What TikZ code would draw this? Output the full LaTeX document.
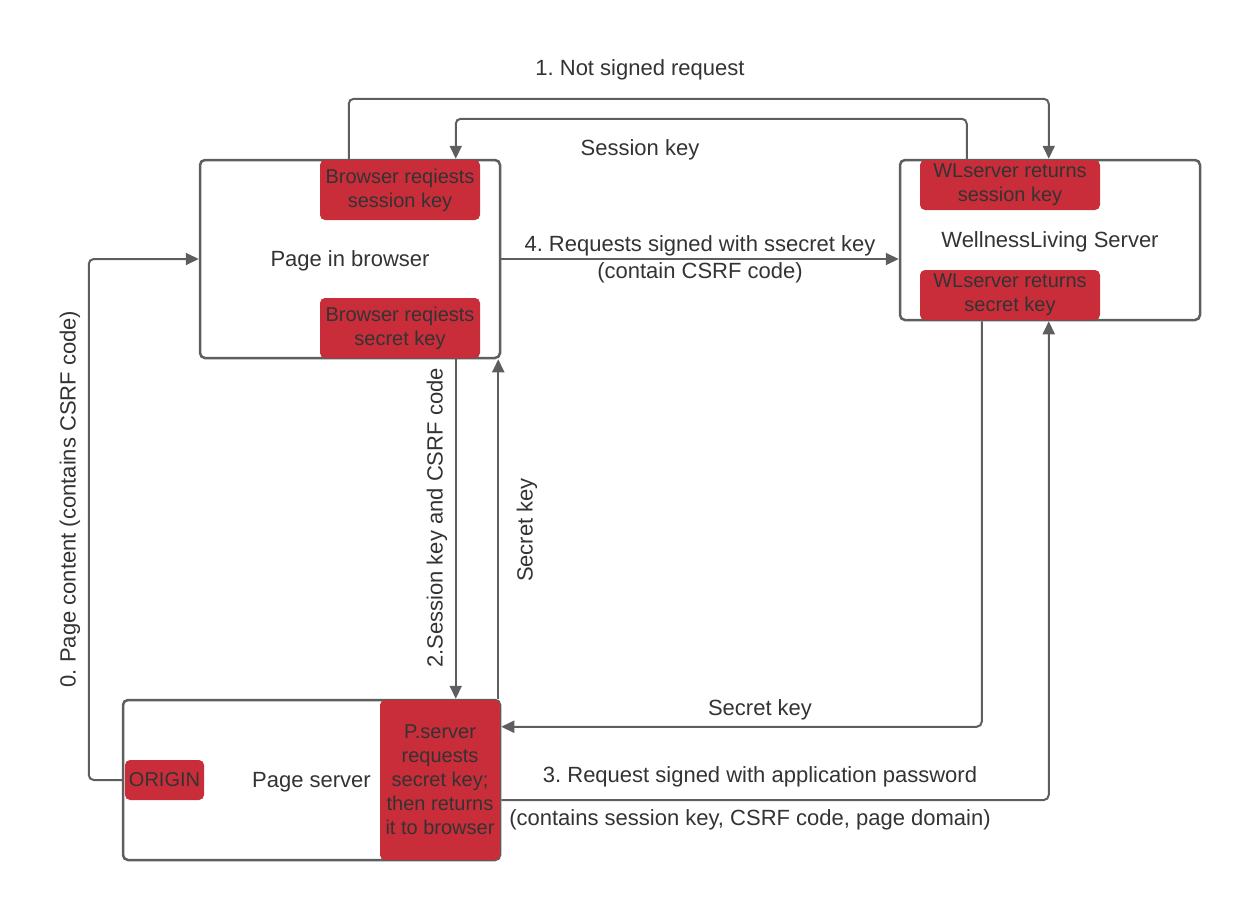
\documentclass[tikz,border=0pt]{standalone}
\usepackage{fontspec}
\setmainfont{Liberation Sans}
\usetikzlibrary{arrows.meta,calc}
\definecolor{ln}{HTML}{5E5E5E}
\definecolor{rd}{HTML}{C92D39}
\definecolor{tx}{HTML}{333333}
\frenchspacing
\begin{document}
\begin{tikzpicture}[x=1pt,y=-1pt,
 box/.style={draw=ln, line width=2.5pt, rounded corners=5pt, inner sep=0pt, text=tx, text depth=0pt, font=\fontsize{22}{27}\selectfont},
 redbox/.style={fill=rd, rounded corners=5pt, inner sep=0pt, text=tx, align=center, font=\fontsize{20}{24}\selectfont},
 lbl/.style={text=tx, inner sep=0pt, align=center, font=\fontsize{22}{27}\selectfont},
 lbl1/.style={lbl, text depth=0pt},
 arr/.style={draw=ln, line width=2pt, rounded corners=5pt, -{Triangle[length=13pt,width=12pt]}}]
\useasboundingbox (0,0) rectangle (1240,900);
% main boxes
\node[box, minimum width=300, minimum height=198] (browser) at (350,259) {Page in browser};
\node[box, minimum width=300, minimum height=160] (wl) at (1050,240) {WellnessLiving Server};
\node[box, minimum width=377, minimum height=160] (pserver) at (311.5,780) {Page server};
% red boxes
\node[redbox, minimum width=160, minimum height=60] (bsess) at (400,190) {Browser reqiests\\session key};
\node[redbox, minimum width=160, minimum height=60] (bsec) at (400,328) {Browser reqiests\\secret key};
\node[redbox, minimum width=180, minimum height=50] (wsess) at (1010,185) {WLserver returns\\session key};
\node[redbox, minimum width=180, minimum height=50] (wsec) at (1010,295) {WLserver returns\\secret key};
\node[redbox, minimum width=120, minimum height=160] (preq) at (440,780) {P.server\\requests\\secret key;\\then returns\\it to browser};
\node[redbox, minimum width=79, minimum height=40] (origin) at (164.5,780) {ORIGIN};
% connectors
\coordinate (a1s) at ($(browser.north west)+(150,0)$);
\coordinate (a1e) at ($(wl.north west)+(150,0)$);
\draw[arr] (a1s) -- ++(0,-60) -| (a1e);
\coordinate (a2s) at ($(wl.north west)+(68,0)$);
\coordinate (a2e) at ($(browser.north west)+(257,0)$);
\draw[arr] (a2s) -- ++(0,-40) -| (a2e);
\draw[arr] (pserver.west |- origin.center) -- ++(-33,0) |- (browser.west);
\draw[arr] (browser.east) -- (wl.west |- browser.east);
\coordinate (a5s) at ($(browser.south west)+(257,0)$);
\draw[arr] (a5s) -- (a5s |- pserver.north);
\coordinate (a6s) at ($(pserver.north east)+(-3,0)$);
\draw[arr] (a6s) -- (a6s |- browser.south);
\coordinate (a7s) at ($(wl.south west)+(83,0)$);
\coordinate (a7e) at ($(pserver.north east)+(0,28)$);
\draw[arr] (a7s) |- (a7e);
\coordinate (a8s) at ($(pserver.east)+(0,20)$);
\coordinate (a8e) at ($(wl.south west)+(150,0)$);
\draw[arr] (a8s) -| (a8e);
% labels
\node[lbl1] (l1) at (640,68) {1. Not signed request};
\node[lbl1] (l2) at (640,148) {Session key};
\node[lbl] (l4) at (700,259) {4. Requests signed with ssecret key\\(contain CSRF code)};
\node[lbl, rotate=90] (l0) at (70,499) {0. Page content (contains CSRF code)};
\node[lbl, rotate=90] (l5) at (437,518) {2.Session key and CSRF code};
\node[lbl, rotate=90] (l6) at (527,530) {Secret key};
\node[lbl1] (l7) at (760,708) {Secret key};
\node[lbl1] (l8) at (760,775) {3. Request signed with application password};
\node[lbl1] (l9) at (750,818) {(contains session key, CSRF code, page domain)};
\end{tikzpicture}
\end{document}
